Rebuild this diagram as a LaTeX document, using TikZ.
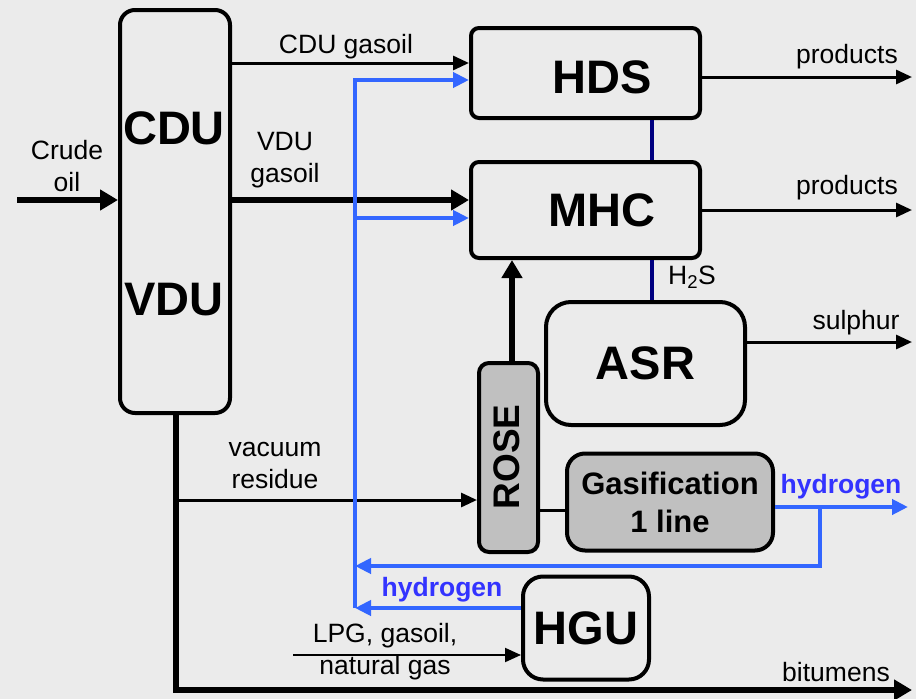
\documentclass[tikz,border=0pt]{standalone}
\usepackage{fontspec}
\setmainfont{Liberation Sans}
\usetikzlibrary{arrows.meta}
\definecolor{bgc}{RGB}{235,235,235}
\definecolor{boxgray}{RGB}{192,192,192}
\definecolor{hblue}{RGB}{51,102,255}
\definecolor{htext}{RGB}{51,51,255}
\definecolor{hsnavy}{RGB}{0,0,128}
\tikzset{
  unit/.style={draw=black, line width=4pt, inner sep=0pt},
  grayunit/.style={unit, fill=boxgray},
  big/.style={font=\fontsize{47}{50}\selectfont\bfseries},
  lbl/.style={font=\fontsize{26.5}{32}\selectfont, align=center, inner sep=0pt},
  hlbl/.style={font=\fontsize{26.5}{30}\selectfont\bfseries, text=htext, inner sep=0pt},
  thinflow/.style={line width=3pt, -{Triangle[length=16pt,width=14pt]}},
  thickflow/.style={line width=5.5pt, -{Triangle[length=18pt,width=20pt]}},
  hflow/.style={draw=hblue, line width=4pt, -{Triangle[length=16pt,width=15pt]}},
  hline/.style={draw=hblue, line width=4pt},
  h2sline/.style={draw=hsnavy, line width=4pt}
}
\begin{document}
\begin{tikzpicture}[x=1pt,y=-1pt]
\useasboundingbox (0,0) rectangle (916,699);
\fill[bgc] (0,0) rectangle (916,699);

% units
\node[unit, rounded corners=15pt, minimum width=110pt, minimum height=403pt] (cdu) at (175,211.5) {};
\node[big] (cdut) at (174,128) {CDU};
\node[big] (vdut) at (174,300) {VDU};
\node[unit, rounded corners=8pt, minimum width=229pt, minimum height=90pt] (hds) at (585.5,73) {};
\node[big] (hdst) at (602,77) {HDS};
\node[unit, rounded corners=8pt, minimum width=229pt, minimum height=96pt] (mhc) at (585.5,210) {};
\node[big] (mhct) at (602,210) {MHC};
\node[unit, rounded corners=25pt, minimum width=199pt, minimum height=123pt, big] (asr) at (645.5,363.5) {ASR};
\node[grayunit, rounded corners=10pt, minimum width=59pt, minimum height=189pt] (rose) at (508.5,457.5) {};
\node[font=\fontsize{37}{40}\selectfont\bfseries, rotate=90] (roset) at (507,457) {ROSE};
\node[grayunit, rounded corners=18pt, minimum width=206pt, minimum height=97pt,
      font=\fontsize{31}{38}\selectfont\bfseries, align=center] (gas) at (670,502) {Gasification\\1 line};
\node[unit, rounded corners=20pt, minimum width=126pt, minimum height=103pt, big] (hgu) at (586,628) {HGU};

% coordinates of free ends and line levels
\coordinate (crude) at (17,200);
\coordinate (cg) at (0,63);
\coordinate (vg) at (0,200);
\coordinate (bt) at (355,80);
\coordinate (bm) at (355,218);
\coordinate (b2) at (355,566);
\coordinate (bb) at (355,608);
\coordinate (hy) at (908,507);
\coordinate (hb) at (820,507);
\coordinate (hx) at (652,0);
\coordinate (rx) at (512,0);
\coordinate (gy) at (0,510);
\coordinate (corner) at (176,690);
\coordinate (bit) at (912,690);
\coordinate (vr) at (176,500);
\coordinate (lpg) at (293,655);
\coordinate (p1) at (912,77);
\coordinate (p2) at (912,210);
\coordinate (s1) at (912,342);

% black flows
\draw[thickflow] (crude) -- (cdu.west |- crude);
\draw[thinflow] (cdu.east |- cg) -- (hds.west |- cg);
\draw[thickflow] (cdu.east |- vg) -- (mhc.west |- vg);
\draw[thinflow] (hds.east |- p1) -- (p1);
\draw[thinflow] (mhc.east |- p2) -- (p2);
\draw[thinflow] (asr.east |- s1) -- (s1);
\draw[thickflow] (rose.north -| rx) -- (mhc.south -| rx);
\draw[line width=3pt] (rose.east |- gy) -- (gas.west |- gy);
\draw[line width=6pt, -{Triangle[length=18pt,width=20pt]}] (cdu.south -| corner) -- (corner) -- (bit);
\draw[thinflow] (vr) -- (rose.west |- vr);
\draw[line width=2pt, -{Triangle[length=16pt,width=14pt]}] (lpg) -- (hgu.west |- lpg);

% H2S connections
\draw[h2sline] (hds.south -| hx) -- (mhc.north -| hx);
\draw[h2sline] (mhc.south -| hx) -- (asr.north -| hx);

% hydrogen network
\draw[hflow] (bb) -- (bt) -- (hds.west |- bt);
\draw[hflow] (bm) -- (mhc.west |- bm);
\draw[hflow] (hgu.west |- bb) -- (bb);
\draw[hflow] (gas.east |- hy) -- (hy);
\draw[hflow] (hb) |- (b2);

% labels
\node[lbl] (lcg) at (346,47) {CDU gasoil};
\node[lbl] (lvg) at (285,160) {VDU\\gasoil};
\node[lbl] (lcr) at (67,166) {Crude\\oil};
\node[lbl] (lvr) at (275,465) {vacuum\\residue};
\node[lbl] (llpg) at (385,652) {LPG, gasoil,\\natural gas};
\node[lbl] (lbit) at (836,672) {bitumens};
\node[lbl] (lp1) at (847,57) {products};
\node[lbl] (lp2) at (847,188) {products};
\node[lbl] (ls) at (856,323) {sulphur};
\node[lbl] (lh2s) at (692,277) {H\textsubscript{2}S};
\node[hlbl] (lh1) at (841,487) {hydrogen};
\node[hlbl] (lh2) at (442,590) {hydrogen};
\end{tikzpicture}
\end{document}
